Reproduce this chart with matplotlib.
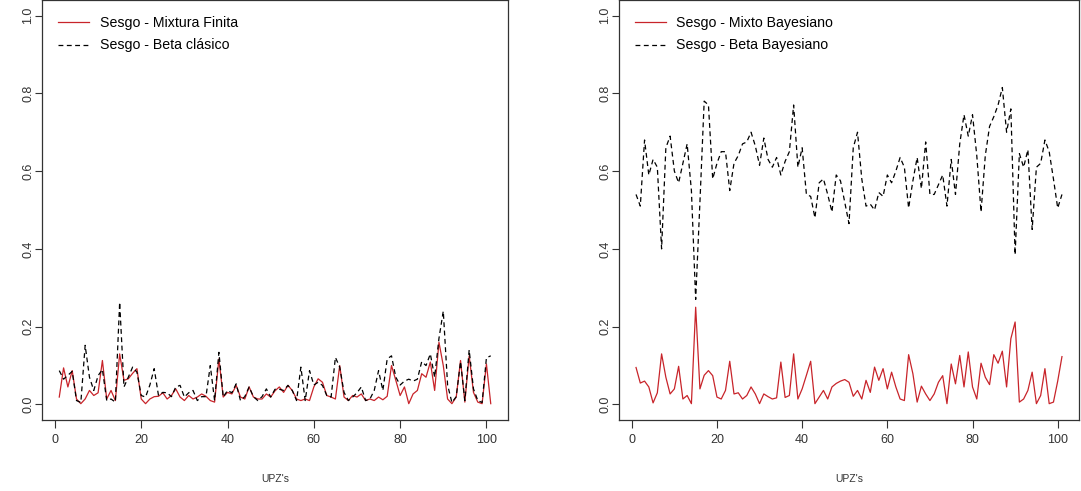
import matplotlib
matplotlib.use('Agg')
import matplotlib.pyplot as plt
import numpy as np

plt.rcParams['font.family'] = ['Liberation Sans', 'DejaVu Sans']
plt.rcParams['lines.scale_dashes'] = False

upz = list(range(1, 102))

mixtura_finita = [0.019, 0.094, 0.045, 0.087, 0.014, 0.002, 0.014, 0.036, 0.023, 0.030,
                  0.113, 0.014, 0.036, 0.010, 0.130, 0.062, 0.066, 0.080, 0.092, 0.014,
                  0.002, 0.014, 0.020, 0.021, 0.030, 0.014, 0.023, 0.040, 0.019, 0.010,
                  0.023, 0.014, 0.019, 0.027, 0.021, 0.010, 0.006, 0.117, 0.019, 0.031,
                  0.027, 0.049, 0.019, 0.014, 0.045, 0.019, 0.014, 0.014, 0.027, 0.019,
                  0.035, 0.045, 0.031, 0.049, 0.036, 0.014, 0.010, 0.014, 0.010, 0.045,
                  0.066, 0.057, 0.023, 0.019, 0.014, 0.100, 0.019, 0.010, 0.023, 0.019,
                  0.027, 0.010, 0.014, 0.010, 0.019, 0.012, 0.021, 0.100, 0.062, 0.023,
                  0.045, 0.002, 0.027, 0.036, 0.079, 0.070, 0.109, 0.036, 0.160, 0.100,
                  0.014, 0.002, 0.019, 0.113, 0.006, 0.125, 0.031, 0.006, 0.002, 0.104, 0.002]

beta_clasico = [0.087, 0.065, 0.075, 0.085, 0.010, 0.005, 0.152, 0.070, 0.036, 0.074,
                0.090, 0.010, 0.014, 0.006, 0.263, 0.045, 0.070, 0.096, 0.083, 0.023,
                0.019, 0.050, 0.092, 0.023, 0.031, 0.030, 0.020, 0.045, 0.049, 0.019,
                0.030, 0.036, 0.010, 0.020, 0.020, 0.100, 0.010, 0.134, 0.019, 0.036,
                0.030, 0.053, 0.010, 0.020, 0.045, 0.020, 0.010, 0.020, 0.040, 0.019,
                0.039, 0.039, 0.036, 0.049, 0.036, 0.010, 0.096, 0.010, 0.087, 0.050,
                0.057, 0.049, 0.023, 0.019, 0.121, 0.096, 0.031, 0.010, 0.019, 0.030,
                0.045, 0.010, 0.014, 0.036, 0.087, 0.036, 0.117, 0.125, 0.070, 0.050,
                0.060, 0.065, 0.060, 0.065, 0.110, 0.100, 0.130, 0.070, 0.170, 0.240,
                0.050, 0.005, 0.020, 0.110, 0.010, 0.140, 0.040, 0.010, 0.005, 0.120, 0.125]

mixto_bayesiano = [0.095, 0.055, 0.060, 0.045, 0.004, 0.030, 0.130, 0.070, 0.027, 0.040,
                   0.098, 0.014, 0.023, 0.002, 0.250, 0.040, 0.075, 0.087, 0.074, 0.019,
                   0.014, 0.036, 0.111, 0.027, 0.030, 0.014, 0.023, 0.045, 0.027, 0.002,
                   0.027, 0.020, 0.014, 0.017, 0.109, 0.018, 0.023, 0.130, 0.014, 0.040,
                   0.075, 0.111, 0.002, 0.019, 0.036, 0.014, 0.045, 0.054, 0.060, 0.064,
                   0.057, 0.021, 0.036, 0.014, 0.062, 0.031, 0.096, 0.062, 0.092, 0.040,
                   0.083, 0.045, 0.014, 0.010, 0.128, 0.079, 0.006, 0.047, 0.027, 0.010,
                   0.027, 0.057, 0.074, 0.002, 0.104, 0.053, 0.126, 0.045, 0.135, 0.045,
                   0.014, 0.106, 0.070, 0.051, 0.128, 0.106, 0.137, 0.045, 0.169, 0.212,
                   0.006, 0.014, 0.036, 0.083, 0.002, 0.023, 0.092, 0.002, 0.006, 0.060, 0.123]

beta_bayesiano = [0.54, 0.51, 0.68, 0.59, 0.63, 0.61, 0.40, 0.66, 0.69, 0.60,
                  0.57, 0.62, 0.67, 0.55, 0.27, 0.52, 0.78, 0.77, 0.58, 0.62,
                  0.65, 0.65, 0.55, 0.62, 0.64, 0.67, 0.675, 0.70, 0.665, 0.615,
                  0.685, 0.63, 0.61, 0.635, 0.59, 0.625, 0.65, 0.77, 0.61, 0.66,
                  0.54, 0.535, 0.48, 0.57, 0.58, 0.54, 0.495, 0.59, 0.575, 0.52,
                  0.465, 0.66, 0.70, 0.58, 0.51, 0.515, 0.50, 0.545, 0.535, 0.59,
                  0.57, 0.60, 0.635, 0.61, 0.505, 0.575, 0.635, 0.555, 0.675, 0.54,
                  0.54, 0.565, 0.59, 0.51, 0.63, 0.54, 0.67, 0.745, 0.69, 0.745,
                  0.64, 0.495, 0.64, 0.715, 0.74, 0.77, 0.815, 0.70, 0.76, 0.385,
                  0.645, 0.61, 0.655, 0.45, 0.61, 0.62, 0.68, 0.65, 0.58, 0.505, 0.54]

x_ticks = [0, 20, 40, 60, 80, 100]
y_ticks = [0.0, 0.2, 0.4, 0.6, 0.8, 1.0]
y_ticklabels = ['0.0', '0.2', '0.4', '0.6', '0.8', '1.0']
x_label = "UPZ's"

RED = '#C8242A'
W, H = 1081, 491
fig = plt.figure(figsize=(W / 100, H / 100), dpi=100)


def make_axes(left_px, right_px, top_px, bottom_px):
    return fig.add_axes([left_px / W, 1 - bottom_px / H,
                         (right_px - left_px) / W, (bottom_px - top_px) / H])


panels = [
    (make_axes(42, 508, 0, 420), mixtura_finita, beta_clasico,
     ['Sesgo - Mixtura Finita', 'Sesgo - Beta clásico']),
    (make_axes(619, 1079, 0, 420), mixto_bayesiano, beta_bayesiano,
     ['Sesgo - Mixto Bayesiano', 'Sesgo - Beta Bayesiano']),
]

for ax, red_series, black_series, labels in panels:
    l1, = ax.plot(upz, red_series, color=RED, lw=0.9)
    l2, = ax.plot(upz, black_series, color='black', lw=0.9, dashes=[3.5, 2.5])
    n = len(upz)
    ext = 0.04 * (n - 1)
    ax.set_xlim(1 - ext, n + ext)
    ax.set_ylim(-0.04, 1.04)
    ax.set_xticks(x_ticks)
    ax.set_xticklabels([str(v) for v in x_ticks])
    ax.set_yticks(y_ticks)
    ax.set_yticklabels(y_ticklabels, rotation=90, va='center')
    ax.tick_params(axis='x', direction='out', length=6, width=0.8,
                   labelsize=9, colors='#333333', labelcolor='#333333', pad=4)
    ax.tick_params(axis='y', direction='out', length=5, width=0.8,
                   labelsize=9, colors='#333333', labelcolor='#333333', pad=0.5)
    for s in ax.spines.values():
        s.set_linewidth(0.9)
        s.set_color('#333333')
    ax.set_xlabel(x_label, fontsize=7.5, labelpad=20, color='#333333')
    ax.legend([l1, l2], labels, loc='upper left', frameon=False, fontsize=10.2,
              handlelength=2.2, handletextpad=0.75, borderaxespad=0.0,
              borderpad=0.0, labelspacing=0.6, bbox_to_anchor=(0.034, 0.962))

fig.savefig('out.png', dpi=100)
